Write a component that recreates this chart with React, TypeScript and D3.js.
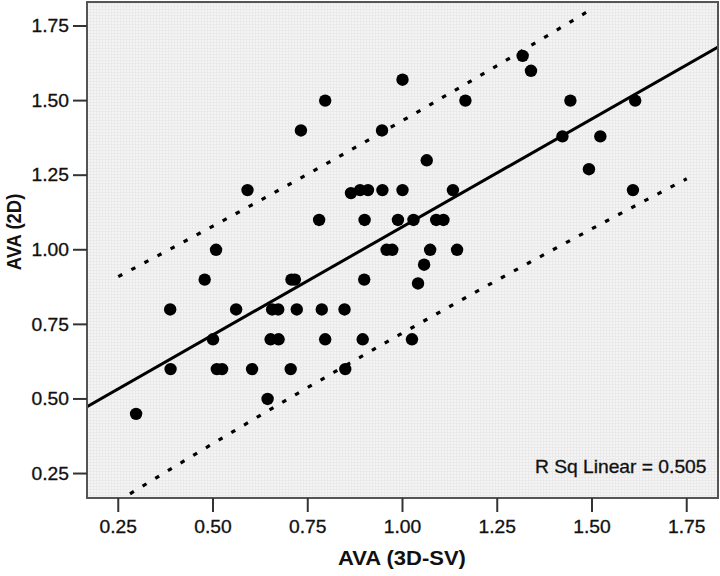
import React from "react";
import * as d3 from "d3";

// ---- data ----
const ava3dsv: number[] = [
  0.297, 0.387, 0.388, 0.478, 0.508, 0.5, 0.51, 0.524, 0.561, 0.591,
  0.603, 0.644, 0.656, 0.672, 0.721, 0.787, 0.847, 0.652, 0.673, 0.796,
  0.895, 1.025, 0.705, 0.849, 0.707, 0.716, 0.899, 0.78, 0.9, 0.988,
  1.029, 1.089, 1.108, 0.864, 0.888, 0.909, 0.947, 1.0, 1.133, 0.732,
  0.946, 1.422, 1.522, 0.796, 1.166, 1.443, 1.614, 1.0, 1.064, 1.317,
  1.339, 1.492, 1.608, 0.958, 0.973, 1.073, 1.144, 1.057, 1.041,
];
const ava2d: number[] = [
  0.45, 0.8, 0.6, 0.9, 1.0, 0.7, 0.6, 0.6, 0.8, 1.2,
  0.6, 0.5, 0.8, 0.8, 0.8, 0.8, 0.8, 0.7, 0.7, 0.7,
  0.7, 0.7, 0.6, 0.6, 0.9, 0.9, 0.9, 1.1, 1.1, 1.1,
  1.1, 1.1, 1.1, 1.19, 1.2, 1.2, 1.2, 1.2, 1.2, 1.4,
  1.4, 1.38, 1.38, 1.5, 1.5, 1.5, 1.5, 1.57, 1.3, 1.65,
  1.6, 1.27, 1.2, 1.0, 1.0, 1.0, 1.0, 0.95, 0.887,
];
const tickValues: number[] = [0.25, 0.5, 0.75, 1.0, 1.25, 1.5, 1.75];
const xDomain: [number, number] = [0.1675, 1.8325];
const yDomain: [number, number] = [0.168, 1.8305];

// fitted line and prediction interval
const FIT_INTERCEPT = 0.353;
const FIT_SLOPE = 0.724;
const PI_HALF_MIN = 0.356;
const PI_CURVE = 0.03;
const X_MEAN = 0.95;
const upperRange: [number, number] = [0.25, 1.487];
const lowerRange: [number, number] = [0.281, 1.75];
const rSqLabel = "R Sq Linear = 0.505";
const xTitle = "AVA (3D-SV)";
const yTitle = "AVA (2D)";

const FONT = "'Liberation Sans', Arial, Helvetica, sans-serif";
const TEXT_COLOR = "#111";

export default function App() {
  const left = 87, right = 718, top = 2, bottom = 498;
  const x = d3.scaleLinear().domain(xDomain).range([left, right]);
  const y = d3.scaleLinear().domain(yDomain).range([bottom, top]);

  const fit = (v: number) => FIT_INTERCEPT + FIT_SLOPE * v;
  const half = (v: number) => Math.sqrt(PI_HALF_MIN * PI_HALF_MIN + PI_CURVE * (v - X_MEAN) * (v - X_MEAN));

  const line = d3.line<[number, number]>().x((d) => x(d[0])).y((d) => y(d[1]));
  const fitPts: [number, number][] = [xDomain[0], xDomain[1]].map((v) => [v, fit(v)]);
  const band = (r: [number, number], sign: number): [number, number][] => {
    const n = 60;
    return d3.range(n + 1).map((i) => {
      const v = r[0] + ((r[1] - r[0]) * i) / n;
      return [v, fit(v) + sign * half(v)];
    });
  };

  const sx = 1.1;

  return (
    <svg width={720} height={576} style={{ position: "absolute", left: 0, top: 0, background: "#fff" }}>
      <defs>
        <pattern id="bgpat" width={3} height={3} patternUnits="userSpaceOnUse">
          <rect width={3} height={3} fill="#f4f4f4" />
          <rect width={3} height={1} fill="#eaeaea" />
          <rect width={1} height={3} fill="#eaeaea" />
        </pattern>
        <clipPath id="plotclip">
          <rect x={left} y={top} width={right - left} height={bottom - top} />
        </clipPath>
      </defs>
      <rect x={left} y={top} width={right - left} height={bottom - top} fill="url(#bgpat)" />

      <g clipPath="url(#plotclip)">
        <path d={line(fitPts) || ""} fill="none" stroke="#000" strokeWidth={3} />
        <path d={line(band(upperRange, 1)) || ""} fill="none" stroke="#000" strokeWidth={3.2} strokeDasharray="4.5 10.3" />
        <path d={line(band(lowerRange, -1)) || ""} fill="none" stroke="#000" strokeWidth={3.2} strokeDasharray="4.5 10.3" />
        {ava3dsv.map((v, i) => (
          <circle key={i} cx={x(v)} cy={y(ava2d[i])} r={6.2} fill="#000" />
        ))}
      </g>

      <rect x={left} y={top} width={right - left} height={bottom - top} fill="none" stroke="#555" strokeWidth={2} />

      {/* x axis */}
      {tickValues.map((t) => (
        <g key={"x" + t}>
          <line x1={x(t)} x2={x(t)} y1={bottom} y2={bottom + 14} stroke="#333" strokeWidth={2} />
          <text
            transform={`translate(${x(t)},533) scale(${sx},1)`}
            textAnchor="middle"
            fontFamily={FONT}
            fontSize={17.5}
            fill={TEXT_COLOR}
            stroke={TEXT_COLOR}
            strokeWidth={0.3}
          >
            {t.toFixed(2)}
          </text>
        </g>
      ))}
      {/* y axis */}
      {tickValues.map((t) => (
        <g key={"y" + t}>
          <line x1={left - 14} x2={left} y1={y(t)} y2={y(t)} stroke="#333" strokeWidth={2} />
          <text
            transform={`translate(69,${y(t)}) scale(${sx},1)`}
            textAnchor="end"
            dy="0.36em"
            fontFamily={FONT}
            fontSize={17.5}
            fill={TEXT_COLOR}
            stroke={TEXT_COLOR}
            strokeWidth={0.3}
          >
            {t.toFixed(2)}
          </text>
        </g>
      ))}

      <text
        transform={`translate(402,565) scale(${sx},1)`}
        textAnchor="middle"
        fontFamily={FONT}
        fontWeight="bold"
        fontSize={20}
        fill={TEXT_COLOR}
      >
        {xTitle}
      </text>
      <text
        transform={`translate(21,232) scale(1.12,1) rotate(-90)`}
        textAnchor="middle"
        fontFamily={FONT}
        fontWeight="bold"
        fontSize={18.5}
        fill={TEXT_COLOR}
      >
        {yTitle}
      </text>
      <text
        transform={`translate(706.5,472.5) scale(${sx},1)`}
        textAnchor="end"
        fontFamily={FONT}
        fontSize={17.5}
        fill={TEXT_COLOR}
        stroke={TEXT_COLOR}
        strokeWidth={0.3}
      >
        {rSqLabel}
      </text>
    </svg>
  );
}
